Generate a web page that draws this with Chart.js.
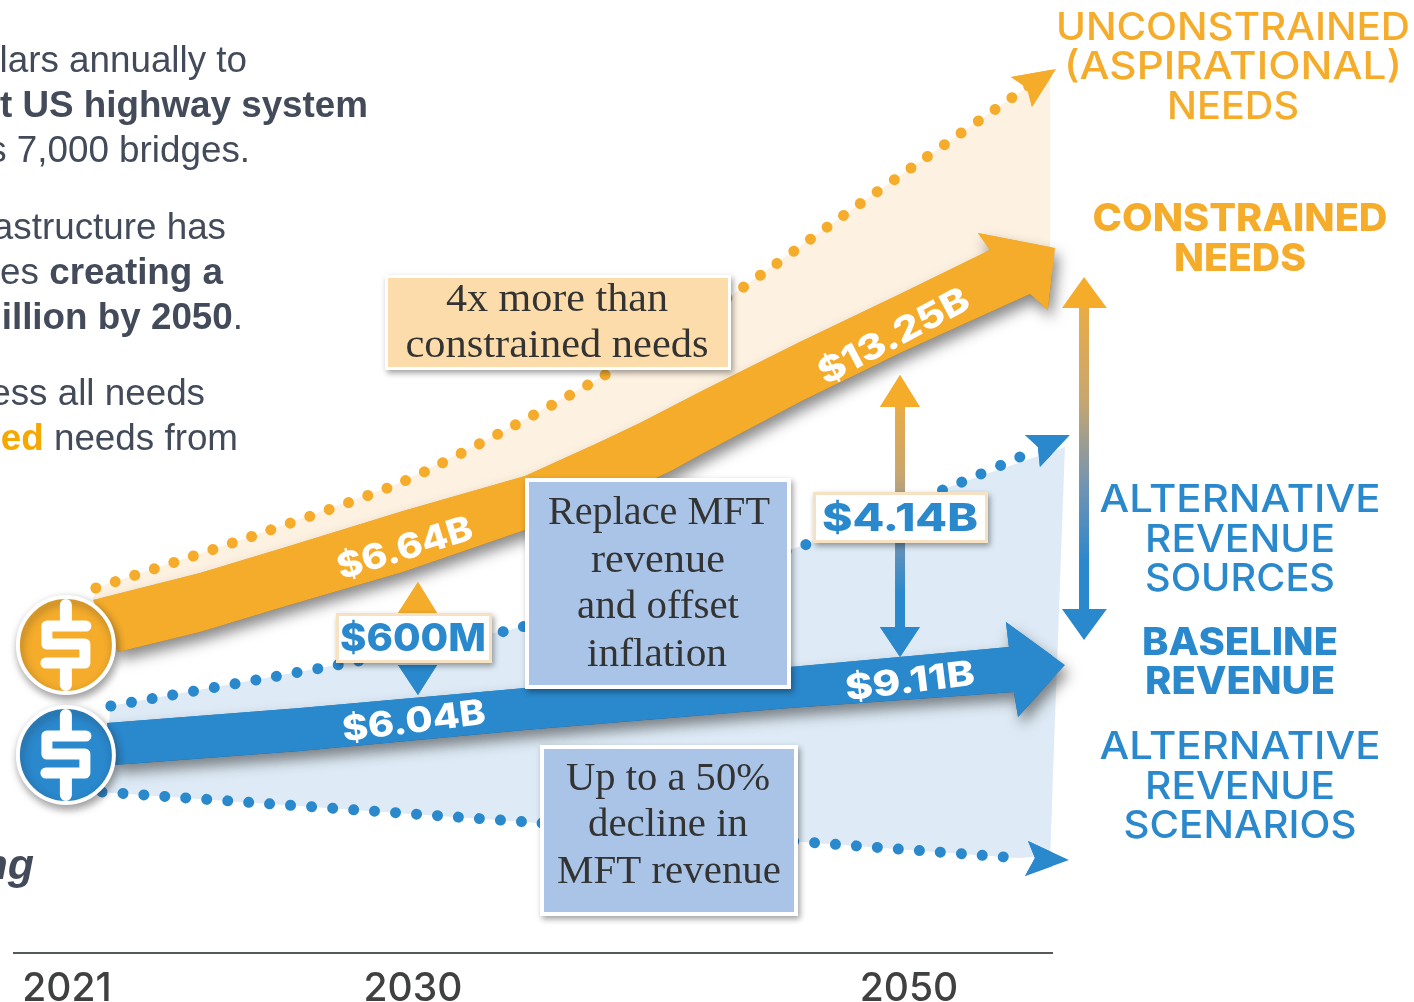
<!DOCTYPE html>
<html>
<head>
<meta charset="utf-8">
<style>html,body{margin:0;padding:0;background:#fff;overflow:hidden}#wrap{width:1414px;height:1002px}</style>
<script src="https://cdn.jsdelivr.net/npm/chart.js@4"></script>
</head>
<body>
<div id="wrap"><canvas id="c" width="1414" height="1002"></canvas></div>
<script>
// ---- Axis ----
const tickYears = [2021, 2030, 2050];
const axisMinYear = 2019.62, axisMaxYear = 2055.77;
const tickFractions = [0.0511, 0.3844, 0.8622];   // the original axis is schematic, not linear in years
const levelMax = 95.3;

// ---- Series (year, schematic level above the axis) ----
const unconstrainedYears  = [2021.75,2025.76,2029.66,2033.51,2037.74,2042.98,2047.10,2050.60,2054.19,2055.28];
const unconstrainedLevels = [36.5,41.6,47.0,52.0,57.8,66.0,73.3,79.4,85.6,87.5];
const unconstrainedHeadYears  = [2054.11,2055.93,2054.96,2054.76];
const unconstrainedHeadLevels = [87.6,88.4,84.6,86.5];

const needsGapYears  = [2021.75,2025.76,2029.66,2033.51,2037.74,2042.98,2047.10,2050.60,2054.19,2055.69,2055.69,2053.27,2049.64,2045.60,2041.57,2039.15,2037.54,2034.52,2029.74,2026.70,2024.46,2021.68];
const needsGapLevels = [36.5,41.6,47.0,52.0,57.8,66.0,73.3,79.4,85.6,88.0,70.3,70.3,65.9,61.1,56.1,53.0,51.1,47.7,44.2,40.6,38.0,35.3];

const constrainedYears  = [2021.68,2024.46,2026.70,2029.74,2034.52,2037.54,2039.15,2041.57,2045.60,2049.64,2053.27,2052.78,2055.89,2055.60,2054.88,2049.64,2045.60,2041.57,2040.48,2037.54,2034.52,2029.74,2026.70,2024.46,2022.33];
const constrainedLevels = [35.3,38.0,40.6,44.2,47.7,51.1,53.0,56.1,61.1,65.9,70.3,72.0,70.5,64.3,65.9,60.0,55.1,49.8,48.3,44.8,42.3,38.1,34.7,32.1,30.1];

const altHighYears  = [2022.14,2027.61,2033.91,2045.44,2051.85,2055.12];
const altHighLevels = [24.7,28.5,32.3,40.5,46.8,50.3];
const altHighHeadYears  = [2054.68,2056.49,2055.28,2055.20];
const altHighHeadLevels = [51.8,51.8,48.6,50.6];

const altLowYears  = [2021.91,2034.60,2045.77,2054.40];
const altLowLevels = [16.1,13.1,11.1,9.5];
const altLowHeadYears  = [2054.80,2056.45,2054.68,2055.08];
const altLowHeadLevels = [11.2,9.3,7.7,9.5];

const altBandYears  = [2022.14,2027.61,2033.91,2045.44,2051.85,2056.29,2055.69,2054.40,2045.77,2034.60,2021.91];
const altBandLevels = [24.7,28.5,32.3,40.5,46.8,50.6,9.8,9.5,11.1,13.1,16.1];

const baselineYears  = [2022.04,2027.06,2034.52,2045.20,2054.03,2053.91,2056.29,2054.40,2054.23,2045.20,2034.52,2027.06,2022.22];
const baselineLevels = [23.0,24.5,26.5,28.6,30.6,33.1,28.8,23.6,26.1,24.5,22.3,20.2,18.8];

const coinYears  = [2020.97];
const coinNeedsLevels = [30.8];
const coinRevenueLevels = [19.8];

// ---- Gap arrows ----
const gap600UpYears = [2029.61,2030.20,2030.97];
const gap600UpLevels = [34.0,37.1,34.0];
const gap600DownLevels = [28.8,25.8,28.8];

const gap414Years = [2049.64,2049.64];
const gap414Levels = [54.6,32.5];
const gap414HeadYears = [2048.83,2049.64,2050.44];
const gap414UpLevels = [54.6,57.8,54.6];
const gap414DownLevels = [32.6,29.6,32.6];

const rangeYears = [2057.06,2057.06];
const rangeLevels = [64.5,34.4];
const rangeHeadYears = [2056.17,2057.06,2057.98];
const rangeUpLevels = [64.5,67.6,64.5];
const rangeDownLevels = [34.4,31.3,34.4];

// ---- Text ----
const bandLabels = ['$6.64B','$13.25B','$6.04B','$9.11B'];
const gapLabels = ['$600M','$4.14B'];
const noteNeeds = ['4x more than','constrained needs'];
const noteReplace = ['Replace MFT','revenue','and offset','inflation'];
const noteDecline = ['Up to a 50%','decline in','MFT revenue'];

// ---- Colours ----
const ORANGE='#f5ac2b', BLUE='#2a88cd', PALE_ORANGE='#fdf1e1', PALE_BLUE='#deebf6';

class SchematicYearScale extends Chart.LinearScale {
  static id = 'schematicYear';
  static defaults = Chart.LinearScale.defaults;
  _frac(v){
    const Y=tickYears,F=tickFractions;
    let i = v < Y[1] ? 0 : 1;
    return F[i] + (v-Y[i])*(F[i+1]-F[i])/(Y[i+1]-Y[i]);
  }
  getPixelForValue(v){ return this.getPixelForDecimal(this._frac(v)); }
  getValueForPixel(p){
    const d=this.getDecimalForPixel(p),Y=tickYears,F=tickFractions;
    let i = d < F[1] ? 0 : 1;
    return Y[i] + (d-F[i])*(Y[i+1]-Y[i])/(F[i+1]-F[i]);
  }
  buildTicks(){ this.min=axisMinYear; this.max=axisMaxYear; return tickYears.map(value=>({value})); }
}
Chart.register(SchematicYearScale);

const pts=(xs,ys)=>xs.map((x,i)=>({x,y:ys[i]}));
const shape=(xs,ys,color,shadow)=>({data:pts(xs,ys),fill:'shape',backgroundColor:color,borderWidth:0,pointRadius:0,tension:0,clip:false,shapeFill:color,softShadow:!!shadow});
const dots=(xs,ys,color,w,gap)=>({data:pts(xs,ys),fill:false,borderColor:color,borderWidth:w,borderCapStyle:'round',borderDash:[0.01,gap],pointRadius:0,tension:0.25,clip:false});
const gradientShaft=(xs,ys)=>({data:pts(xs,ys),fill:false,borderWidth:10,pointRadius:0,clip:false,
  borderColor(ctx){
    const s=ctx.chart.scales.y; if(!s) return BLUE;
    const y0=s.getPixelForValue(ys[0]), y1=s.getPixelForValue(ys[1]);
    if(!Number.isFinite(y0)||!Number.isFinite(y1)) return BLUE;
    const g=ctx.chart.ctx.createLinearGradient(0,y0,0,y1);
    g.addColorStop(0,'#e8ac45'); g.addColorStop(0.3,'#c9a66e'); g.addColorStop(0.6,'#6f93b4'); g.addColorStop(0.85,BLUE); g.addColorStop(1,BLUE);
    return g;
  }});
const coin=(ys,color)=>({data:pts(coinYears,ys),showLine:false,pointRadius:48,pointBorderWidth:4,pointBackgroundColor:color,pointBorderColor:'#fff',clip:false,coin:true,softShadow:true});

const list=[
  shape(needsGapYears,needsGapLevels,PALE_ORANGE),
  shape(altBandYears,altBandLevels,PALE_BLUE),
  dots(unconstrainedYears,unconstrainedLevels,ORANGE,11,20.5),
  shape(unconstrainedHeadYears,unconstrainedHeadLevels,ORANGE),
  dots(altHighYears,altHighLevels,BLUE,11,21),
  shape(altHighHeadYears,altHighHeadLevels,BLUE),
  dots(altLowYears,altLowLevels,BLUE,11,21),
  shape(altLowHeadYears,altLowHeadLevels,BLUE),
  shape(constrainedYears,constrainedLevels,ORANGE,true),
  shape(baselineYears,baselineLevels,BLUE,true),
  shape(gap600UpYears,gap600UpLevels,ORANGE),
  shape(gap600UpYears,gap600DownLevels,BLUE),
  gradientShaft(gap414Years,gap414Levels),
  shape(gap414HeadYears,gap414UpLevels,ORANGE),
  shape(gap414HeadYears,gap414DownLevels,BLUE),
  gradientShaft(rangeYears,rangeLevels),
  shape(rangeHeadYears,rangeUpLevels,ORANGE),
  shape(rangeHeadYears,rangeDownLevels,BLUE),
  coin(coinNeedsLevels,ORANGE),
  coin(coinRevenueLevels,BLUE)
];
list.forEach((d,i)=>{d.order=list.length-i;});

const MONT='Inter, "Open Sans", sans-serif', SERIF='"Liberation Serif", serif', ARIAL='"Liberation Sans", Arial, sans-serif';

function fit(ctx,text,cx,cy,font,color,width,rot){
  ctx.save();
  ctx.font=font; ctx.fillStyle=color; ctx.textAlign='center'; ctx.textBaseline='middle';
  const m=ctx.measureText(text).width;
  ctx.translate(cx,cy+2); if(rot) ctx.rotate(rot*Math.PI/180);
  ctx.scale(width/m,1);
  ctx.fillText(text,0,0);
  ctx.restore();
}
function runs(ctx,parts,right,cy,size){
  ctx.save();
  ctx.textBaseline='middle'; ctx.textAlign='left';
  let total=0;
  parts.forEach(p=>{ctx.font=(p.style||'')+' '+size+'px '+ARIAL; total+=ctx.measureText(p.t).width;});
  let x=right-total;
  parts.forEach(p=>{ctx.font=(p.style||'')+' '+size+'px '+ARIAL; ctx.fillStyle=p.c||'#434b5a'; ctx.fillText(p.t,x,cy+2); x+=ctx.measureText(p.t).width;});
  ctx.restore();
}
function box(ctx,x0,y0,x1,y1,fill,edge,inset){
  ctx.save();
  ctx.shadowColor='rgba(0,0,0,.38)'; ctx.shadowBlur=6; ctx.shadowOffsetX=2; ctx.shadowOffsetY=3;
  ctx.fillStyle=edge; ctx.fillRect(x0,y0,x1-x0,y1-y0);
  ctx.restore();
  ctx.fillStyle=fill; ctx.fillRect(x0+inset,y0+inset,x1-x0-2*inset,y1-y0-2*inset);
}
function dollar(ctx,cx,cy){
  ctx.save();
  ctx.strokeStyle='#fff'; ctx.lineCap='round'; ctx.lineJoin='round'; ctx.lineWidth=12;
  ctx.beginPath();
  ctx.moveTo(cx,cy-40); ctx.lineTo(cx,cy-20);
  ctx.moveTo(cx,cy+20); ctx.lineTo(cx,cy+40);
  ctx.stroke();
  ctx.lineWidth=11;
  ctx.beginPath();
  ctx.moveTo(cx+20,cy-19); ctx.lineTo(cx-19,cy-19); ctx.lineTo(cx-19,cy-1); ctx.lineTo(cx+19,cy-1); ctx.lineTo(cx+19,cy+18); ctx.lineTo(cx-20,cy+18);
  ctx.stroke();
  ctx.restore();
}

const infographic={
  id:'infographic',
  afterLayout(chart){
    const x=chart.scales.x,y=chart.scales.y;
    const L=14,R=1052,T=0,B=953;
    Object.assign(x,{left:L,right:R,width:R-L,top:B,bottom:1002,height:1002-B});
    Object.assign(y,{left:L,right:L,width:0,top:T,bottom:B,height:B-T});
    x.configure(); y.configure();
    chart.chartArea={left:L,right:R,top:T,bottom:B,width:R-L,height:B-T};
  },
  beforeDatasetDraw(chart,args){
    const d=chart.data.datasets[args.index], ctx=chart.ctx;
    if(d.shapeFill){
      ctx.save();
      if(d.softShadow){ctx.shadowColor='rgba(40,40,40,.55)';ctx.shadowBlur=14;ctx.shadowOffsetX=4;ctx.shadowOffsetY=8;}
      ctx.fillStyle=d.shapeFill;
      ctx.beginPath(); args.meta.dataset.path(ctx); ctx.closePath(); ctx.fill();
      ctx.restore();
    }
    if(d.coin){ctx.save();ctx.shadowColor='rgba(40,40,40,.45)';ctx.shadowBlur=8;ctx.shadowOffsetX=2;ctx.shadowOffsetY=4;}
  },
  afterDatasetDraw(chart,args){
    const d=chart.data.datasets[args.index], ctx=chart.ctx;
    if(d.coin){
      ctx.restore();
      const p=args.meta.data[0];
      dollar(ctx,p.x,p.y);
    }
  },
  afterDatasetsDraw(chart){
    const ctx=chart.ctx;
    // Rotated band values
    const B='800 35px '+MONT;
    fit(ctx,bandLabels[0],405,547,B,'#fff',140,-17);
    fit(ctx,bandLabels[1],894,335,B,'#fff',166,-28);
    fit(ctx,bandLabels[2],414,720,B,'#fff',144,-7);
    fit(ctx,bandLabels[3],910,680,B,'#fff',130,-7);

    // Notes
    box(ctx,385,275,731,370,'#fcdcab','#fff',3);
    const S='39px '+SERIF, I='#333';
    fit(ctx,noteNeeds[0],557,299,S,I,222);
    fit(ctx,noteNeeds[1],557,345,S,I,303);
    box(ctx,525,478,791,689,'#a9c4e6','#fff',4);
    fit(ctx,noteReplace[0],659,512,S,I,222);
    fit(ctx,noteReplace[1],658,560,S,I,134);
    fit(ctx,noteReplace[2],658,606,S,I,162);
    fit(ctx,noteReplace[3],657,654,S,I,140);
    box(ctx,540,745,798,916,'#a9c4e6','#fff',4);
    fit(ctx,noteDecline[0],668,778,S,I,204);
    fit(ctx,noteDecline[1],668,824,S,I,160);
    fit(ctx,noteDecline[2],669,871,S,I,224);

    // Gap boxes
    box(ctx,336,613,492,663,'#fff','#f6e2c2',3);
    fit(ctx,gapLabels[0],413,638,'800 38px '+MONT,BLUE,146);
    box(ctx,813,492,988,543,'#fff','#f6e2c2',3);
    fit(ctx,gapLabels[1],900,518,'800 38px '+MONT,BLUE,156);

    // Right labels
    const R='500 38px '+MONT, RB='800 38px '+MONT;
    fit(ctx,'UNCONSTRAINED',1233,27,R,ORANGE,354);
    fit(ctx,'(ASPIRATIONAL)',1233,66,R,ORANGE,338);
    fit(ctx,'NEEDS',1233,106,R,ORANGE,132);
    fit(ctx,'CONSTRAINED',1240,218,RB,ORANGE,295);
    fit(ctx,'NEEDS',1240,258,RB,ORANGE,132);
    fit(ctx,'ALTERNATIVE',1240,499,R,BLUE,281);
    fit(ctx,'REVENUE',1240,539,R,BLUE,190);
    fit(ctx,'SOURCES',1240,578,R,BLUE,190);
    fit(ctx,'BASELINE',1240,642,RB,BLUE,196);
    fit(ctx,'REVENUE',1240,681,RB,BLUE,190);
    fit(ctx,'ALTERNATIVE',1240,746,R,BLUE,281);
    fit(ctx,'REVENUE',1240,786,R,BLUE,190);
    fit(ctx,'SCENARIOS',1240,825,R,BLUE,233);

    // Left narrative, cropped by the page edge as in the reference
    const Z=36.8;
    runs(ctx,[{t:'lars annually to'}],247,60,Z);
    runs(ctx,[{t:'t US highway system',style:'bold'}],368,105,Z);
    runs(ctx,[{t:'s 7,000 bridges.'}],250,150,Z);
    runs(ctx,[{t:'astructure has'}],226,227,Z);
    runs(ctx,[{t:'es '},{t:'creating a',style:'bold'}],223,272,Z);
    runs(ctx,[{t:'illion by 2050',style:'bold'},{t:'.'}],243,317,Z);
    runs(ctx,[{t:'ess all needs'}],205,393,Z);
    runs(ctx,[{t:'ed',style:'bold',c:'#f5a800'},{t:' needs from'}],238,438,Z);
    runs(ctx,[{t:'ng',style:'italic bold'}],34,865,43);
  }
};

new Chart(document.getElementById('c'),{
  type:'line',
  data:{datasets:list},
  plugins:[infographic],
  options:{
    responsive:false,animation:false,events:[],
    layout:{padding:{left:14,right:362,top:0,bottom:0}},
    plugins:{legend:{display:false},tooltip:{enabled:false},title:{display:false}},
    scales:{
      x:{type:'schematicYear',min:axisMinYear,max:axisMaxYear,
        grid:{display:false,drawTicks:false},
        border:{display:true,color:'#55595f',width:2},
        afterFit(s){s.height=49;},
        ticks:{autoSkip:false,maxRotation:0,minRotation:0,padding:13,color:'#3f4040',
          font:{family:'Inter',size:39,weight:'500'},
          callback:v=>String(v)}},
      y:{display:false,min:0,max:levelMax}
    }
  }
});
</script>
</body>
</html>
